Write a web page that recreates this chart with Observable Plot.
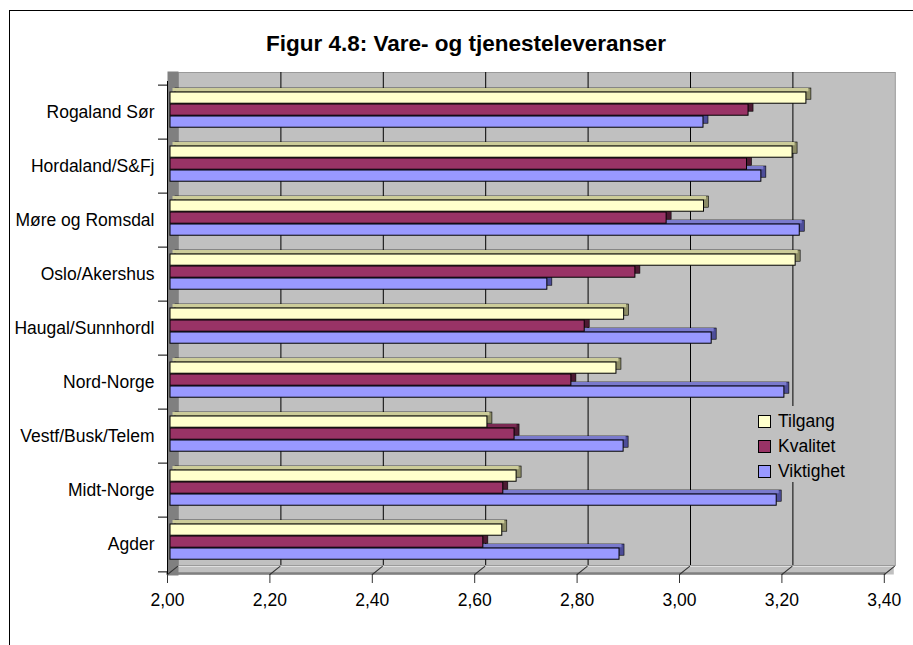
<!DOCTYPE html>
<html>
<head>
<meta charset="utf-8">
<script src="https://cdn.jsdelivr.net/npm/d3@7"></script>
<script src="https://cdn.jsdelivr.net/npm/@observablehq/plot@0.6"></script>
<style>
  html, body { margin: 0; padding: 0; background: #fff; }
  #wrap { position: relative; width: 913px; height: 645px; overflow: hidden; font-family: "Liberation Sans", Arial, sans-serif; }
  #border { position: absolute; left: 9px; top: 10px; width: 1200px; height: 1200px; border: 1px solid #000; box-sizing: border-box; }
  #title { position: absolute; left: 0; top: 33px; width: 932px; text-align: center; font-weight: bold; font-size: 22.5px; line-height: 22.5px; color: #000; }
  #chart { position: absolute; left: 0; top: 0; }
  #legend { position: absolute; left: 755px; top: 406px; width: 92px; height: 76px; background: #C0C0C0; padding-top: 2.5px; box-sizing: border-box; }
  .item { height: 25px; display: flex; align-items: center; font-size: 17.5px; color: #000; }
  .sw { width: 11px; height: 11px; border: 1px solid #000; margin-left: 3px; margin-right: 7px; flex: none; }
</style>
</head>
<body>
<div id="wrap">
  <div id="border"></div>
  <div id="chart"></div>
  <div id="title"></div>
  <div id="legend"></div>
</div>
<script>
// ---- data ----
const title = "Figur 4.8: Vare- og tjenesteleveranser";
const categories = ["Rogaland Sør", "Hordaland/S&Fj", "Møre og Romsdal", "Oslo/Akershus", "Haugal/Sunnhordl", "Nord-Norge", "Vestf/Busk/Telem", "Midt-Norge", "Agder"];
const seriesNames = ["Tilgang", "Kvalitet", "Viktighet"];
const tilgang   = [3.242, 3.215, 3.042, 3.221, 2.886, 2.871, 2.619, 2.676, 2.648];
const kvalitet  = [3.129, 3.126, 2.969, 2.908, 2.809, 2.783, 2.672, 2.650, 2.611];
const viktighet = [3.041, 3.154, 3.229, 2.736, 3.057, 3.199, 2.885, 3.184, 2.877];
const xDomain = [2.0, 3.4];
const xTicks = [2.0, 2.2, 2.4, 2.6, 2.8, 3.0, 3.2, 3.4];
const xTickLabels = ["2,00", "2,20", "2,40", "2,60", "2,80", "3,00", "3,20", "3,40"];
const gridTicks = [2.2, 2.4, 2.6, 2.8, 3.0, 3.2];

// ---- styles ----
const colors = {Tilgang: "#FFFFCC", Kvalitet: "#993366", Viktighet: "#9999FF"};
const topColors = {Tilgang: "#CCCC99", Kvalitet: "#7A2952", Viktighet: "#7A7ACC"};
const sideColors = {Tilgang: "#8C8C66", Kvalitet: "#4D1A33", Viktighet: "#4D4D99"};

const rows = categories.map((c, i) => ({category: c, Tilgang: tilgang[i], Kvalitet: kvalitet[i], Viktighet: viktighet[i]}));

const plotH = 645, plotW = 913;
const mTop = 78, mBottom = 74, mLeft = 170, mRight = 26.2;
const band = (plotH - mTop - mBottom) / categories.length;
const barH = 12, firstInset = 10;
const base = () => xDomain[0];

function barMarks(name, idx) {
  const it = firstInset + idx * barH;
  const ib = band - it - barH;
  return [
    Plot.barX(rows, {y: "category", x1: base, x2: name, insetTop: it, insetBottom: ib, dx: 5, dy: -4, fill: sideColors[name], stroke: "#000", strokeWidth: 0.6}),
    Plot.barX(rows, {y: "category", x1: base, x2: name, insetTop: it, insetBottom: ib + barH - 4, dx: 2.5, dy: -4, fill: topColors[name]}),
    Plot.barX(rows, {y: "category", x1: base, x2: name, insetTop: it, insetBottom: ib, fill: colors[name], stroke: "#000", strokeWidth: 1})
  ];
}

const lineShape = {draw(context, l) { context.moveTo(0, 0); context.lineTo(0, -l); }};

const chart = Plot.plot({
  width: plotW, height: plotH,
  marginTop: mTop, marginBottom: mBottom, marginLeft: mLeft, marginRight: mRight,
  x: {domain: xDomain, label: null},
  y: {domain: categories, padding: 0, label: null},
  style: {fontFamily: "'Liberation Sans', Arial, sans-serif", fontSize: "17.5px", background: "transparent", color: "#000", overflow: "visible"},
  marks: [
    // back wall
    Plot.frame({fill: "#C0C0C0", stroke: "#9a9a9a", dx: 8, dy: -6}),
    // floor
    Plot.frame({anchor: "bottom", stroke: "#C0C0C0", strokeWidth: 8, dx: 2.5, dy: -1}),
    Plot.frame({anchor: "bottom", stroke: "#808080", strokeWidth: 2.5, dx: -3, dy: 2}),
    // side wall
    Plot.frame({anchor: "left", stroke: "#808080", strokeWidth: 11, dx: 2.5, dy: -1.5}),
    // gridlines on back wall
    Plot.ruleX(gridTicks, {x: d => d, dx: 8, dy: -6, stroke: "#000", strokeWidth: 1}),
    // floor diagonals
    Plot.vector(xTicks, {x: d => d, frameAnchor: "bottom", dx: -3, dy: 3, rotate: 51, length: 13, anchor: "start", shape: lineShape, stroke: "#333", strokeWidth: 1}),
    // y axis line
    Plot.frame({anchor: "left", stroke: "#000", strokeWidth: 1, dx: -3, dy: 3}),
    // x axis
    Plot.axisX({ticks: xTicks, tickFormat: (d, i) => xTickLabels[i], tickSize: 9, tickPadding: 10, dx: -3, dy: 3, stroke: "#333", fill: "#000", fontSize: 17.5}),
    // y axis labels
    Plot.axisY({tickSize: 0, tickPadding: 13, dx: -3, dy: 3, fill: "#000", fontSize: 17.5}),
    // y boundary ticks
    Plot.axisY({tickSize: 9, tickFormat: () => "", dx: -3, dy: 3 - band / 2, stroke: "#000"}),
    Plot.axisY({ticks: categories.slice(-1), tickSize: 9, tickFormat: () => "", dx: -3, dy: 3 + band / 2, stroke: "#000"}),
    // bars (back to front in stacking order)
    ...barMarks("Viktighet", 2),
    ...barMarks("Kvalitet", 1),
    ...barMarks("Tilgang", 0)
  ]
});
document.getElementById("chart").appendChild(chart);
document.getElementById("title").textContent = title;

const legend = document.getElementById("legend");
seriesNames.forEach(n => {
  const it = document.createElement("div");
  it.className = "item";
  const sw = document.createElement("span");
  sw.className = "sw";
  sw.style.background = colors[n];
  const tx = document.createElement("span");
  tx.textContent = n;
  it.appendChild(sw); it.appendChild(tx);
  legend.appendChild(it);
});
</script>
</body>
</html>
